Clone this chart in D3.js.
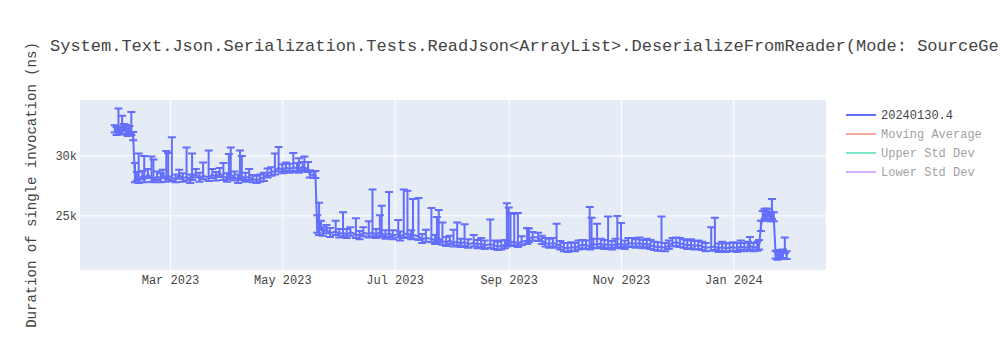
<!DOCTYPE html>
<html>
<head>
<meta charset="utf-8">
<script src="https://cdn.jsdelivr.net/npm/d3@7"></script>
<style>
  html, body { margin: 0; padding: 0; background: #fff; }
  svg { display: block; }
  text { font-family: "Liberation Mono", "Courier New", monospace; }
</style>
</head>
<body>
<svg id="chart" width="1000" height="350"></svg>
<script>
// ---------------- DATA ----------------
const titleText = "System.Text.Json.Serialization.Tests.ReadJson<ArrayList>.DeserializeFromReader(Mode: SourceGen)";
const yAxisTitle = "Duration of single invocation (ns)";
const seriesNames = ["20240130.4", "Moving Average", "Upper Std Dev", "Lower Std Dev"];
const xTickDates = ["2023-03-01", "2023-05-01", "2023-07-01", "2023-09-01", "2023-11-01", "2024-01-01"];
const xTickLabels = ["Mar 2023", "May 2023", "Jul 2023", "Sep 2023", "Nov 2023", "Jan 2024"];
const yTickValues = [25000, 30000];
const yTickLabels = ["25k", "30k"];

const dates = [
"2023-01-30","2023-01-31","2023-02-01","2023-02-02","2023-02-03","2023-02-04","2023-02-05","2023-02-06","2023-02-07","2023-02-08",
"2023-02-09","2023-02-10","2023-02-11","2023-02-12","2023-02-14","2023-02-15","2023-02-17","2023-02-19","2023-02-20","2023-02-22",
"2023-02-24","2023-02-25","2023-02-27","2023-02-28","2023-03-02","2023-03-04","2023-03-06","2023-03-08","2023-03-10","2023-03-12",
"2023-03-13","2023-03-15","2023-03-17","2023-03-19","2023-03-22","2023-03-24","2023-03-26","2023-03-28","2023-03-30","2023-04-01",
"2023-04-02","2023-04-03","2023-04-05","2023-04-07","2023-04-08","2023-04-09","2023-04-11","2023-04-13","2023-04-15","2023-04-17",
"2023-04-19","2023-04-21","2023-04-23","2023-04-25","2023-04-27","2023-04-29","2023-05-01","2023-05-03","2023-05-05","2023-05-07",
"2023-05-09","2023-05-10","2023-05-12","2023-05-13","2023-05-15","2023-05-16","2023-05-18","2023-05-19","2023-05-20","2023-05-21",
"2023-05-22","2023-05-23","2023-05-25","2023-05-27","2023-05-30","2023-06-01","2023-06-03","2023-06-05","2023-06-07","2023-06-10",
"2023-06-12","2023-06-14","2023-06-17","2023-06-19","2023-06-21","2023-06-23","2023-06-24","2023-06-26","2023-06-28","2023-06-30",
"2023-07-03","2023-07-04","2023-07-06","2023-07-08","2023-07-10","2023-07-11","2023-07-14","2023-07-16","2023-07-18","2023-07-21",
"2023-07-23","2023-07-24","2023-07-25","2023-07-27","2023-07-29","2023-07-31","2023-08-02","2023-08-04","2023-08-06","2023-08-08",
"2023-08-10","2023-08-13","2023-08-15","2023-08-17","2023-08-19","2023-08-22","2023-08-24","2023-08-26","2023-08-28","2023-08-30",
"2023-08-31","2023-09-01","2023-09-02","2023-09-04","2023-09-06","2023-09-08","2023-09-11","2023-09-12","2023-09-14","2023-09-17",
"2023-09-19","2023-09-21","2023-09-23","2023-09-25","2023-09-27","2023-09-29","2023-10-01","2023-10-03","2023-10-05","2023-10-07",
"2023-10-09","2023-10-11","2023-10-13","2023-10-15","2023-10-16","2023-10-17","2023-10-19","2023-10-21","2023-10-23","2023-10-25",
"2023-10-27","2023-10-29","2023-10-30","2023-11-01","2023-11-03","2023-11-05","2023-11-07","2023-11-09","2023-11-11","2023-11-13",
"2023-11-15","2023-11-17","2023-11-19","2023-11-21","2023-11-23","2023-11-25","2023-11-27","2023-11-29","2023-12-01","2023-12-03",
"2023-12-05","2023-12-07","2023-12-09","2023-12-11","2023-12-13","2023-12-15","2023-12-17","2023-12-20","2023-12-22","2023-12-24",
"2023-12-26","2023-12-28","2023-12-30","2024-01-01","2024-01-03","2024-01-05","2024-01-07","2024-01-09","2024-01-10","2024-01-12",
"2024-01-14","2024-01-15","2024-01-16","2024-01-17","2024-01-18","2024-01-19","2024-01-20","2024-01-21","2024-01-22","2024-01-23",
"2024-01-24","2024-01-25","2024-01-26","2024-01-27","2024-01-28","2024-01-29","2024-01-30"
];
const values = [
32150,31950,32250,32050,32000,32250,32100,31850,32050,32000,
31550,28050,28200,28000,28300,28050,28400,28100,28000,28250,
28050,28400,28100,28300,28150,28000,28350,28100,28200,28000,
28250,28450,28100,28300,28150,28400,28200,28500,28250,28100,
28300,28400,28200,28000,28300,28250,28100,28250,28000,27950,
28050,28150,28450,28600,28700,28950,28800,29000,28850,29000,
28900,28850,29050,28950,28900,28400,28350,28350,23850,23700,
24100,23600,23800,23500,23650,23450,23550,23400,23600,23400,
23300,23550,23450,23550,23400,23600,23500,23350,23500,23300,
23450,23250,23400,23500,23300,23350,23250,23000,23100,23050,
22900,23000,23100,22850,22750,22900,22700,22800,22650,22750,
22600,22700,22550,22650,22500,22600,22500,22400,22450,22550,
22700,22850,22750,22800,22650,22800,22900,23050,23200,23150,
22900,22700,22600,22700,22600,22450,22300,22250,22350,22300,
22450,22550,22500,22450,22550,22600,22550,22650,22500,22600,
22450,22600,22550,22650,22500,22650,22700,22600,22700,22550,
22650,22500,22400,22350,22350,22300,22500,22700,22750,22650,
22600,22500,22550,22450,22500,22400,22300,22350,22400,22250,
22350,22250,22300,22350,22250,22400,22300,22350,22450,22300,
22350,22450,24100,24900,25100,24950,25200,24850,25050,24800,
21700,21600,21700,21650,21750,22250,21650
];
const errUp = [
350,400,1650,350,1300,350,450,400,400,1600,
400,1300,400,2150,400,1900,450,1800,1650,400,
450,400,2250,1900,3350,400,450,400,2450,400,
1900,400,450,1100,2250,450,400,450,1100,400,
1800,2250,450,400,2100,1700,450,600,350,350,
350,400,450,400,1450,1750,450,400,450,1200,
450,900,400,950,550,350,350,350,1150,2350,
450,400,400,450,900,400,1700,450,400,1350,
400,450,1050,3600,450,1400,2300,400,3450,450,
1150,400,3750,3550,450,3000,3200,450,700,2550,
450,1850,2350,1550,450,400,1100,1600,400,1500,
400,650,400,450,400,2050,400,400,450,400,
3300,2800,2450,2300,2550,450,1050,850,400,400,
400,400,450,400,1700,400,400,450,400,400,
450,400,400,3250,2250,450,1750,400,450,2300,
400,450,2400,1700,400,450,400,400,450,400,
400,450,400,400,2550,400,400,400,400,450,
400,400,450,400,400,400,400,1650,2400,400,
450,400,400,400,450,500,400,450,750,400,
450,500,450,450,450,600,350,450,1300,450,
350,350,400,350,400,900,350
];
const errDown = [
250,250,300,300,250,250,350,250,300,300,
300,300,300,300,300,300,300,300,250,300,
300,300,300,300,300,250,300,300,300,300,
300,300,300,300,300,300,300,300,300,300,
300,300,300,300,300,300,300,300,250,250,
250,300,300,300,300,300,300,300,300,300,
300,300,300,300,300,250,250,250,300,350,
300,300,300,300,300,300,300,300,300,300,
300,300,300,300,300,300,300,300,300,300,
300,350,300,300,300,300,300,300,300,300,
300,300,300,300,300,300,300,300,300,300,
300,300,300,300,300,300,300,300,300,300,
300,300,300,300,300,300,300,300,300,300,
300,300,300,300,300,300,300,300,300,300,
300,300,300,300,300,300,300,300,300,300,
300,300,300,300,300,300,300,300,300,300,
300,300,300,300,300,300,300,300,300,300,
300,300,300,300,300,300,300,300,300,300,
300,300,300,300,300,300,300,300,300,300,
300,300,400,350,400,350,300,350,350,300,
300,300,300,300,300,400,300
];

// ---------------- CHART ----------------
const W = 1000, H = 350;
const plot = { left: 80, right: 826, top: 100, bottom: 270 };
const mainColor = "#636efa";
const legendColors = ["#636efa", "#EF553B", "#00cc96", "#ab63fa"];
const parse = d3.utcParse("%Y-%m-%d");

const data = dates.map((d, i) => ({ date: parse(d), v: values[i], up: errUp[i], dn: errDown[i] }));

const svg = d3.select("#chart");
svg.append("rect").attr("width", W).attr("height", H).attr("fill", "#fff");

const x = d3.scaleUtc()
  .domain([new Date(Date.UTC(2023, 0, 11, 2, 40)), new Date(Date.UTC(2024, 1, 20, 8, 40))])
  .range([plot.left, plot.right]);
const y = d3.scaleLinear()
  .domain([20442, 34608])
  .range([plot.bottom, plot.top]);

svg.append("rect")
  .attr("x", plot.left).attr("y", plot.top)
  .attr("width", plot.right - plot.left).attr("height", plot.bottom - plot.top)
  .attr("fill", "#e5ecf6");

const xTicks = xTickDates.map(parse);

// grid
const gx = svg.append("g")
  .attr("transform", `translate(0,${plot.bottom})`)
  .call(d3.axisBottom(x).tickValues(xTicks).tickSize(-(plot.bottom - plot.top)).tickFormat(""));
gx.select(".domain").remove();
gx.selectAll("line").attr("stroke", "#fff").attr("stroke-width", 1);

const gy = svg.append("g")
  .attr("transform", `translate(${plot.left},0)`)
  .call(d3.axisLeft(y).tickValues(yTickValues).tickSize(-(plot.right - plot.left)).tickFormat(""));
gy.select(".domain").remove();
gy.selectAll("line").attr("stroke", "#fff").attr("stroke-width", 1);

// axis labels
const ax = svg.append("g")
  .attr("transform", `translate(0,${plot.bottom})`)
  .call(d3.axisBottom(x).tickValues(xTicks).tickSize(0).tickPadding(0)
    .tickFormat((d, i) => xTickLabels[i]));
ax.select(".domain").remove();
ax.selectAll("text")
  .attr("y", 14).attr("dy", 0)
  .attr("fill", "#444").attr("font-size", 12)
  .attr("font-family", '"Liberation Mono", "Courier New", monospace');

const ay = svg.append("g")
  .attr("transform", `translate(${plot.left},0)`)
  .call(d3.axisLeft(y).tickValues(yTickValues).tickSize(0).tickPadding(3)
    .tickFormat((d, i) => yTickLabels[i]));
ay.select(".domain").remove();
ay.selectAll("text")
  .attr("fill", "#444").attr("font-size", 12)
  .attr("font-family", '"Liberation Mono", "Courier New", monospace');

// clip
svg.append("clipPath").attr("id", "clip")
  .append("rect")
  .attr("x", plot.left).attr("y", plot.top)
  .attr("width", plot.right - plot.left).attr("height", plot.bottom - plot.top);

const gData = svg.append("g").attr("clip-path", "url(#clip)");

const line = d3.line().x(d => x(d.date)).y(d => y(d.v));
gData.append("path")
  .datum(data)
  .attr("d", line)
  .attr("fill", "none")
  .attr("stroke", mainColor)
  .attr("stroke-width", 2)
  .attr("stroke-linejoin", "round");

const eb = gData.append("g");
eb.selectAll("path").data(data).join("path")
  .attr("d", d => {
    const cx = x(d.date), y1 = y(d.v + d.up), y0 = y(d.v - d.dn);
    return `M${cx - 4},${y1}h8M${cx},${y1}V${y0}M${cx - 4},${y0}h8`;
  })
  .attr("fill", "none")
  .attr("stroke", mainColor)
  .attr("stroke-width", 2);

// title
svg.append("text")
  .attr("x", 50).attr("y", 51)
  .attr("fill", "#444").attr("font-size", 17)
  .text(titleText);

// y axis title
svg.append("text")
  .attr("transform", `translate(36,${(plot.top + plot.bottom) / 2}) rotate(-90)`)
  .attr("text-anchor", "middle")
  .attr("fill", "#444").attr("font-size", 14)
  .text(yAxisTitle);

// legend
const lg = svg.append("g");
seriesNames.forEach((name, i) => {
  const ly = 115 + i * 19;
  const item = lg.append("g").attr("opacity", i === 0 ? 1 : 0.5);
  item.append("line")
    .attr("x1", 846).attr("x2", 876).attr("y1", ly).attr("y2", ly)
    .attr("stroke", legendColors[i])
    .attr("stroke-width", 2);
  item.append("text")
    .attr("x", 881).attr("y", ly).attr("dy", "0.35em")
    .attr("fill", "#444").attr("font-size", 12)
    .text(name);
});
</script>
</body>
</html>
